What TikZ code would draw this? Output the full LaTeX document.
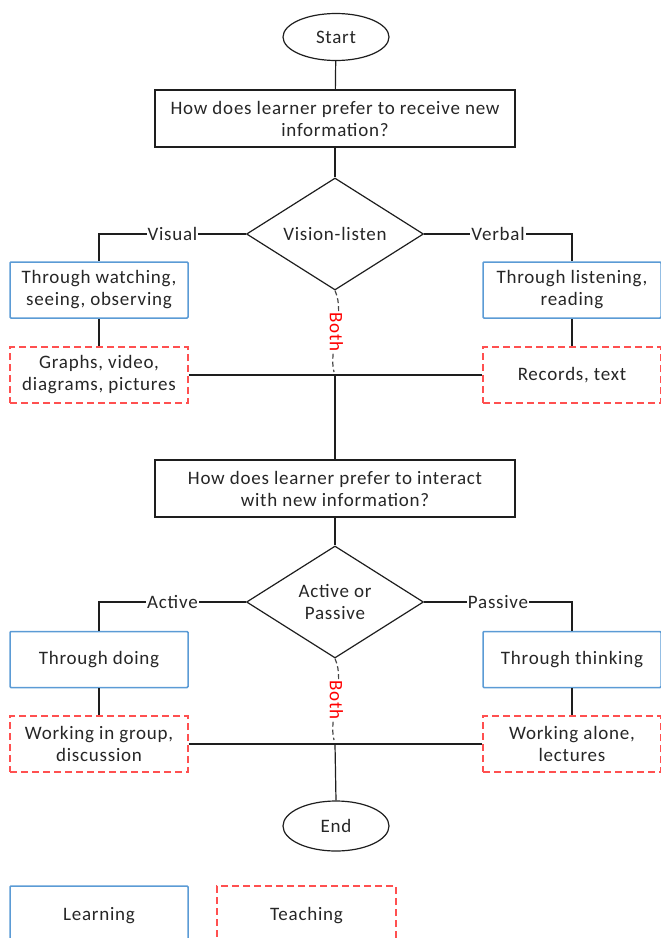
\documentclass[tikz,border=0pt]{standalone}
\usepackage{fontspec}
\setmainfont[LetterSpace=4]{Carlito}
\usetikzlibrary{shapes.geometric}
\definecolor{lblue}{RGB}{91,155,213}
\definecolor{lred}{RGB}{255,80,80}
\definecolor{lineg}{RGB}{30,30,30}
\definecolor{dashg}{RGB}{70,70,70}
\begin{document}
\begin{tikzpicture}[x=1pt,y=-1pt,
  every node/.style={font=\fontsize{19}{22}\selectfont, align=center, inner sep=0pt, text=black!85},
  conn/.style={draw=lineg, line width=1.2pt},
  term/.style={ellipse, draw=lineg, line width=1.2pt, minimum width=106, minimum height=47},
  qbox/.style={rectangle, draw=lineg, line width=1.2pt, minimum width=360, minimum height=57},
  decide/.style={diamond, draw=lineg, line width=1.2pt, minimum width=177, minimum height=112, aspect=1.58},
  learnbox/.style={rectangle, draw=lblue, line width=1.5pt, minimum width=178, minimum height=56, rounded corners=1pt},
  teachbox/.style={rectangle, draw=lred, line width=1.5pt, dash pattern=on 7pt off 4pt, minimum width=178, minimum height=56},
  blabel/.style={fill=white, inner sep=1pt},
  bothline/.style={draw=dashg, line width=1.2pt, dash pattern=on 5pt off 3pt},
  bothlabel/.style={text=red, fill=white, rotate=-90, inner sep=1pt}
]
\useasboundingbox (0,0) rectangle (661,938);

\node[term] (start) at (336,37) {Start};
\node[qbox] (q1) at (335,118.5) {How does learner prefer to receive new\\information?};
\node[decide] (d1) at (335,234) {Vision-listen};
\node[learnbox] (watch) at (99,290) {Through watching,\\seeing, observing};
\node[learnbox] (listen) at (572,290) {Through listening,\\reading};
\node[teachbox] (graphs) at (99,375) {Graphs, video,\\diagrams, pictures};
\node[teachbox] (records) at (572,375) {Records, text};
\coordinate (j1) at (335,375);
\node[qbox] (q2) at (335,488.5) {How does learner prefer to interact\\with new information?};
\node[decide] (d2) at (335,602) {Active or\\Passive};
\node[learnbox] (doing) at (99,659.5) {Through doing};
\node[learnbox] (thinking) at (572,659.5) {Through thinking};
\node[teachbox] (group) at (99,744) {Working in group,\\discussion};
\node[teachbox] (alone) at (572,744) {Working alone,\\lectures};
\coordinate (j2) at (335,744);
\node[term, minimum height=50] (end) at (336,826) {End};
\node[learnbox, minimum height=60] (learn) at (99,916) {Learning};
\node[teachbox, minimum width=179, minimum height=60] (teach) at (306.5,916) {Teaching};

\draw[conn] (start) -- (q1);
\draw[conn] (q1) -- (d1);
\draw[conn] (d1.west) -| node[blabel, pos=0.25] {Visual} (watch.north);
\draw[conn] (d1.east) -| node[blabel, pos=0.25] {Verbal} (listen.north);
\draw[conn] (watch) -- (graphs);
\draw[conn] (listen) -- (records);
\draw[conn] (graphs.east) -- (records.west);
\draw[conn] (j1) -- (q2.north);
\draw[bothline] (d1.south) .. controls (346,315) and (328,350) .. (334,372)
  node[bothlabel, pos=0.5] {Both};
\draw[conn] (q2) -- (d2);
\draw[conn] (d2.west) -| node[blabel, pos=0.25] {Active} (doing.north);
\draw[conn] (d2.east) -| node[blabel, pos=0.25] {Passive} (thinking.north);
\draw[conn] (doing) -- (group);
\draw[conn] (thinking) -- (alone);
\draw[conn] (group.east) -- (alone.west);
\draw[conn] (j2) -- (end.north);
\draw[bothline] (d2.south) .. controls (346,683) and (328,718) .. (334,740)
  node[bothlabel, pos=0.5] {Both};
\end{tikzpicture}
\end{document}
